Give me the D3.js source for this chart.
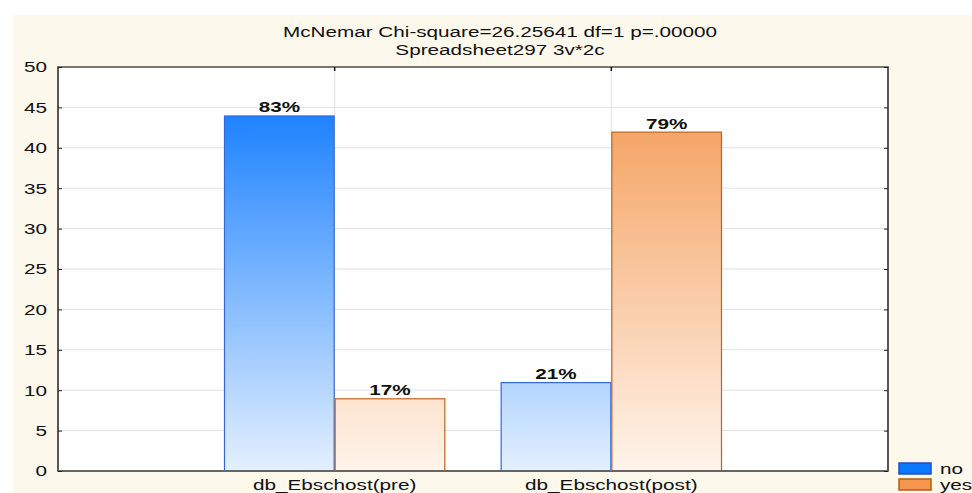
<!DOCTYPE html>
<html>
<head>
<meta charset="utf-8">
<script src="https://cdn.jsdelivr.net/npm/d3@7"></script>
<style>
  body { margin: 0; background: #fff; }
  text { font-family: "Liberation Sans", Arial, sans-serif; }
</style>
</head>
<body>
<svg id="chart" width="972" height="493"></svg>
<script>
// data
var categories = ["db_Ebschost(pre)", "db_Ebschost(post)"];
var seriesNames = ["no", "yes"];
var noValues = [44, 11];
var yesValues = [9, 42];
var percentLabels = [["83%", "21%"], ["17%", "79%"]];
var yTicks = [0, 5, 10, 15, 20, 25, 30, 35, 40, 45, 50];
var titleLines = ["McNemar Chi-square=26.25641 df=1 p=.00000", "Spreadsheet297 3v*2c"];

var svg = d3.select("svg#chart");
var width = +svg.attr("width");
var height = +svg.attr("height");
var sx = 1.38; // the original text is stretched sideways

// place a text at (px,py) with horizontal stretch
function put(sel, px, py) {
  sel.attr("x", 0).attr("y", 0)
    .attr("transform", function(d, i) {
      var a = typeof px === "function" ? px(d, i) : px;
      var b = typeof py === "function" ? py(d, i) : py;
      return "translate(" + a + "," + b + ") scale(" + sx + ",1)";
    });
  return sel;
}

// cream panel
svg.append("rect")
  .attr("x", 13).attr("y", 15)
  .attr("width", width - 13).attr("height", height - 15)
  .attr("fill", "#fdf8ec");

var plotLeft = 58, plotRight = 888, plotTop = 67, plotBottom = 471;

var x = d3.scalePoint().domain(categories).range([plotLeft, plotRight]).padding(1);
var y = d3.scaleLinear().domain([0, 50]).range([plotBottom, plotTop]);
var barW = x.step() * 0.4;

// gradients in plot coordinates, so short bars look paler
var defs = svg.append("defs");
function grad(id, c0, c1) {
  var g = defs.append("linearGradient").attr("id", id)
    .attr("gradientUnits", "userSpaceOnUse")
    .attr("x1", 0).attr("y1", y(0)).attr("x2", 0).attr("y2", y(45));
  g.append("stop").attr("offset", 0).attr("stop-color", c0);
  g.append("stop").attr("offset", 1).attr("stop-color", c1);
}
grad("gNo", "#e4f0ff", "#1a80ff");
grad("gYes", "#fff4eb", "#f4a05e");

// plot area
svg.append("rect")
  .attr("x", plotLeft).attr("y", plotTop)
  .attr("width", plotRight - plotLeft).attr("height", plotBottom - plotTop)
  .attr("fill", "#fff");

// horizontal grid
svg.append("g").selectAll("line")
  .data(yTicks.slice(1, -1))
  .enter().append("line")
    .attr("x1", plotLeft).attr("x2", plotRight)
    .attr("y1", function(d){ return y(d); })
    .attr("y2", function(d){ return y(d); })
    .attr("stroke", "#e2e2e2").attr("stroke-width", 1);

// vertical grid at categories
svg.append("g").selectAll("line")
  .data(categories)
  .enter().append("line")
    .attr("x1", function(d){ return x(d); })
    .attr("x2", function(d){ return x(d); })
    .attr("y1", plotTop).attr("y2", plotBottom)
    .attr("stroke", "#e2e2e2").attr("stroke-width", 1);

// bars
var series = [
  { name: "no", values: noValues, fill: "url(#gNo)", stroke: "#3468d6", off: -barW },
  { name: "yes", values: yesValues, fill: "url(#gYes)", stroke: "#c2621e", off: 0 }
];

series.forEach(function(s, si) {
  var g = svg.append("g");
  g.selectAll("rect")
    .data(s.values)
    .enter().append("rect")
      .attr("x", function(d, i){ return x(categories[i]) + s.off + 0.5; })
      .attr("y", function(d){ return y(d) + 0.5; })
      .attr("width", barW - 1)
      .attr("height", function(d){ return y(0) - y(d) - 0.5; })
      .attr("fill", s.fill)
      .attr("stroke", s.stroke)
      .attr("stroke-width", 1.2);
  var t = g.selectAll("text")
    .data(s.values)
    .enter().append("text")
      .attr("text-anchor", "middle")
      .style("font-size", "15px")
      .style("font-weight", "bold")
      .style("fill", "#111")
      .text(function(d, i){ return percentLabels[si][i]; });
  put(t, function(d, i){ return x(categories[i]) + s.off + barW / 2; },
         function(d){ return y(d) - 3; });
});

// frame
svg.append("rect")
  .attr("x", plotLeft).attr("y", plotTop)
  .attr("width", plotRight - plotLeft).attr("height", plotBottom - plotTop)
  .attr("fill", "none").attr("stroke", "#222").attr("stroke-width", 1.5);
svg.append("line")
  .attr("x1", plotLeft).attr("x2", plotRight).attr("y1", plotTop).attr("y2", plotTop)
  .attr("stroke", "#777").attr("stroke-width", 2);
svg.append("line")
  .attr("x1", plotLeft).attr("x2", plotRight).attr("y1", plotBottom).attr("y2", plotBottom)
  .attr("stroke", "#666").attr("stroke-width", 2);

// left axis, ticks inside
var yAxis = d3.axisLeft(y).tickValues(yTicks).tickSize(-4);
var ga = svg.append("g").attr("transform", "translate(" + plotLeft + ",0)").call(yAxis);
ga.select(".domain").remove();
ga.selectAll(".tick line").attr("stroke", "#222");
ga.selectAll(".tick text")
  .style("font-size", "15px").style("font-family", "Liberation Sans, Arial, sans-serif")
  .attr("fill", "#111")
  .attr("x", 0)
  .attr("transform", "translate(-11,0) scale(" + sx + ",1)");

// right ticks inside
var gr = svg.append("g").attr("transform", "translate(" + plotRight + ",0)")
  .call(d3.axisRight(y).tickValues(yTicks).tickSize(-4).tickFormat(""));
gr.select(".domain").remove();
gr.selectAll(".tick line").attr("stroke", "#222");

// top ticks at categories
svg.append("g").selectAll("line")
  .data(categories).enter().append("line")
    .attr("x1", function(d){ return x(d); }).attr("x2", function(d){ return x(d); })
    .attr("y1", plotTop).attr("y2", plotTop + 4)
    .attr("stroke", "#111").attr("stroke-width", 1.5);

// category labels
put(svg.append("g").selectAll("text")
  .data(categories).enter().append("text")
    .attr("text-anchor", "middle")
    .style("font-size", "15px")
    .style("fill", "#111")
    .text(function(d){ return d; }),
  function(d){ return x(d); }, 490);

// title
put(svg.append("g").selectAll("text")
  .data(titleLines).enter().append("text")
    .attr("text-anchor", "middle")
    .style("font-size", "15px")
    .style("fill", "#111")
    .text(function(d){ return d; }),
  (plotLeft + plotRight) / 2 + 27, function(d, i){ return 37 + i * 18; });

// legend
var legendColors = [["#0a78ff", "#1f4fbf"], ["#f5964e", "#b65a16"]];
var lg = svg.append("g").attr("transform", "translate(899,463)");
seriesNames.forEach(function(n, i) {
  lg.append("rect")
    .attr("x", 0).attr("y", i * 16)
    .attr("width", 32).attr("height", 11)
    .attr("fill", legendColors[i][0])
    .attr("stroke", legendColors[i][1]).attr("stroke-width", 1.5);
  put(lg.append("text")
    .style("font-size", "15px")
    .style("fill", "#111")
    .text(n), 41, i * 16 + 11);
});
</script>
</body>
</html>
